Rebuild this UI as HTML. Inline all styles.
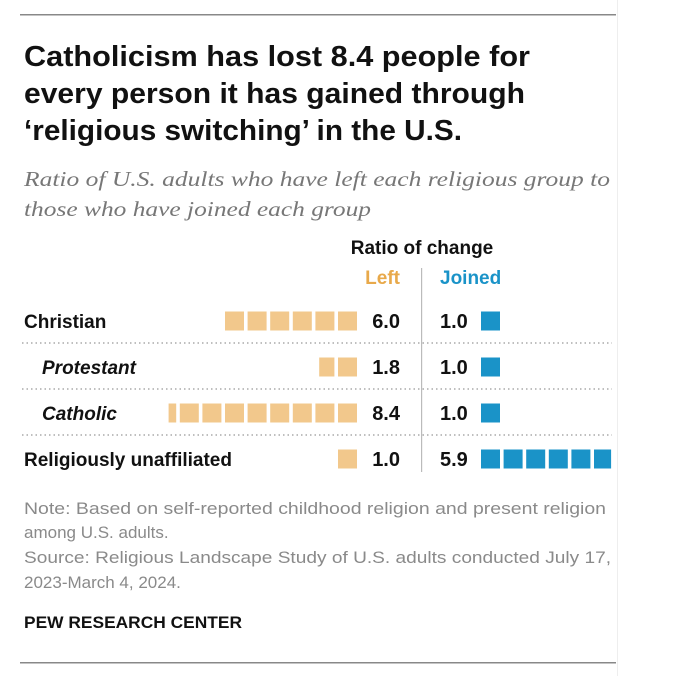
<!DOCTYPE html>
<html><head><meta charset="utf-8"><style>
html,body{margin:0;padding:0;background:#fff;}
svg{display:block;}
.t{font-family:"Liberation Sans Narrow","Liberation Sans",sans-serif;font-weight:bold;fill:#111;}
.n{font-family:"Liberation Sans Narrow","Liberation Sans",sans-serif;fill:#8a8a8a;font-size:17px;}
.s{font-family:"Liberation Serif",serif;font-style:italic;fill:#777;font-size:21px;}
</style></head><body>
<svg id="chart" width="685" height="676">
<rect x="617" y="0" width="1" height="676" fill="#eee"/>
<rect x="20" y="14" width="596" height="1.5" fill="#888"/>
<text class="t" x="24" y="66" font-size="29" textLength="506" lengthAdjust="spacingAndGlyphs">Catholicism has lost 8.4 people for</text>
<text class="t" x="24" y="103" font-size="29" textLength="501" lengthAdjust="spacingAndGlyphs">every person it has gained through</text>
<text class="t" x="24" y="140" font-size="29" textLength="438" lengthAdjust="spacingAndGlyphs">‘religious switching’ in the U.S.</text>
<text class="s" x="24" y="186" textLength="586" lengthAdjust="spacingAndGlyphs">Ratio of U.S. adults who have left each religious group to</text>
<text class="s" x="24" y="216" textLength="347" lengthAdjust="spacingAndGlyphs">those who have joined each group</text>
<text class="t" x="422" y="254" font-size="19" text-anchor="middle">Ratio of change</text>
<text class="t" x="400" y="284" font-size="19" text-anchor="end" style="fill:#e8a94a">Left</text>
<text class="t" x="440" y="284" font-size="19" style="fill:#1a93c8">Joined</text>
<rect x="421" y="268" width="1.2" height="204" fill="#bbb"/>
<g id="rows"></g>
<text class="n" x="24" y="514" textLength="582" lengthAdjust="spacingAndGlyphs">Note: Based on self-reported childhood religion and present religion</text>
<text class="n" x="24" y="538">among U.S. adults.</text>
<text class="n" x="24" y="563" textLength="587" lengthAdjust="spacingAndGlyphs">Source: Religious Landscape Study of U.S. adults conducted July 17,</text>
<text class="n" x="24" y="588">2023-March 4, 2024.</text>
<text class="t" x="24" y="628" font-size="17" textLength="218" lengthAdjust="spacingAndGlyphs">PEW RESEARCH CENTER</text>
<rect x="20" y="662" width="596" height="1.5" fill="#888"/>
</svg>
<script>
const categories=["Christian","Protestant","Catholic","Religiously unaffiliated"];
const leftValues=[6.0,1.8,8.4,1.0];
const joinedValues=[1.0,1.0,1.0,5.9];
const italicRows=[false,true,true,false];
const NS="http://www.w3.org/2000/svg";
const g=document.getElementById('rows');
const rowY=i=>321+i*46;
const step=22.6, sq=19;
function mk(tag,attrs){const e=document.createElementNS(NS,tag);for(const k in attrs)e.setAttribute(k,attrs[k]);g.appendChild(e);return e;}
categories.forEach((c,i)=>{
  const y=rowY(i);
  const lab=mk('text',{x:italicRows[i]?42:24,y:y+7,'class':'t','font-size':19});
  if(italicRows[i])lab.setAttribute('font-style','italic');
  lab.textContent=c;
  
  
  const lv=mk('text',{x:400,y:y+7,'class':'t','font-size':20,'text-anchor':'end'});
  lv.textContent=leftValues[i].toFixed(1);
  
  
  const jv=mk('text',{x:440,y:y+7,'class':'t','font-size':20});
  jv.textContent=joinedValues[i].toFixed(1);
  
  
  // left squares, right-aligned at 357
  let v=leftValues[i],k=0;
  while(v>0.001){
    const f=Math.min(1,v);const w=sq*f;
    const xr=357-k*step;
    const r=mk('rect',{x:xr-w,y:y-9.5,width:w,height:sq,fill:'#f2c88c'});
    
    
    v-=1;k++;
  }
  v=joinedValues[i];k=0;
  while(v>0.001){
    const f=Math.min(1,v);const w=sq*f;
    const r=mk('rect',{x:481+k*step,y:y-9.5,width:w,height:sq,fill:'#1a93c8'});
    
    
    v-=1;k++;
  }
  if(i<categories.length-1){
    const l=mk('line',{x1:22,x2:612,y1:y+22,y2:y+22,stroke:'#999','stroke-width':1.2,'stroke-dasharray':'1.5 3'});
    
    
  }
});
</script>
</body></html>
